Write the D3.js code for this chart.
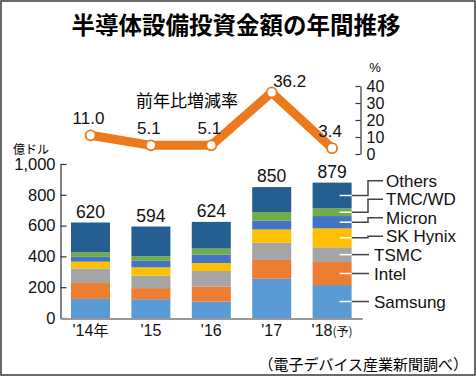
<!DOCTYPE html>
<html>
<head>
<meta charset="utf-8">
<script src="https://cdn.jsdelivr.net/npm/d3@7"></script>
<style>
    body { margin: 0; background: #fff; }
    svg { display: block; }
</style>
</head>
<body>
<svg id="chart"></svg>
<script>
// Years on the x axis and the suffix printed after each
const years = ["'14", "'15", "'16", "'17", "'18"];
const yearSuffix = ["年", "", "", "", "(予)"];

// Capex by company, 100M USD
const samsung = [124, 122, 107, 255, 214];
const intel = [103, 72, 98, 122, 150];
const tsmc = [95, 81, 100, 111, 95];
const skHynix = [44, 54, 52, 87, 123];
const micron = [31, 42, 55, 57, 80];
const tmcWd = [30, 30, 39, 56, 50];
const others = [193, 193, 173, 162, 167];
const totals = [620, 594, 624, 850, 879];

// Year-on-year change, %
const growth = [11.0, 5.1, 5.1, 36.2, 3.4];

const companies = ["Samsung", "Intel", "TSMC", "SK Hynix", "Micron", "TMC/WD", "Others"];
const colors = ["#5b9bd5", "#ed7d31", "#a5a5a5", "#ffc000", "#4472c4", "#70ad47", "#255e91"];
const leftTicks = [0, 200, 400, 600, 800, 1000];
const rightTicks = [0, 10, 20, 30, 40];

const width = 476, height = 376;
const numFont = "'Liberation Sans', Arial, sans-serif";
const jpFont = "'Noto Sans CJK JP', sans-serif";

const svg = d3.select("#chart").attr("width", width).attr("height", height);

// Frame around the whole graphic
svg.append("rect")
    .attr("x", 1).attr("y", 1)
    .attr("width", width - 2).attr("height", height - 2)
    .attr("fill", "#fff").attr("stroke", "#444").attr("stroke-width", 1.6);

// Title
svg.append("text")
    .attr("x", 236).attr("y", 24)
    .attr("text-anchor", "middle").attr("dominant-baseline", "central")
    .attr("font-family", jpFont).attr("font-weight", 700).attr("font-size", 23.5)
    .text("半導体設備投資金額の年間推移");

// Build table for stacking
const table = years.map((y, i) => ({
    year: y,
    Samsung: samsung[i], Intel: intel[i], TSMC: tsmc[i], "SK Hynix": skHynix[i],
    Micron: micron[i], "TMC/WD": tmcWd[i], Others: others[i]
}));
const series = d3.stack().keys(companies)(table);

// Scales
const x = d3.scaleBand().domain(years).range([60.3, 362.3]).paddingInner(0.354).paddingOuter(0.177);
const y = d3.scaleLinear().domain([0, 1000]).range([318, 164]);
const yPct = d3.scaleLinear().domain([0, 40]).range([154, 86]);
const color = d3.scaleOrdinal().domain(companies).range(colors);

// Left axis, ticks pointing inward
const leftAxis = svg.append("g")
    .attr("transform", "translate(60.5,0)")
    .call(d3.axisLeft(y).tickValues(leftTicks).tickFormat(d3.format(","))
        .tickSizeInner(-6).tickSizeOuter(0).tickPadding(5));
leftAxis.select(".domain").attr("stroke", "#333").attr("stroke-width", 1.2);
leftAxis.selectAll(".tick line").attr("stroke", "#333").attr("stroke-width", 1.2);
leftAxis.selectAll("text").attr("font-family", numFont).attr("font-size", 16.5).attr("fill", "#111");

svg.append("text")
    .attr("x", 13).attr("y", 148)
    .attr("dominant-baseline", "central")
    .attr("font-family", jpFont).attr("font-size", 12)
    .text("億ドル");

// Stacked bars
svg.append("g")
    .selectAll("g")
    .data(series)
    .enter()
    .append("g")
    .attr("fill", (d) => color(d.key))
    .selectAll("rect")
    .data((d) => d)
    .enter()
    .append("rect")
    .attr("x", (d) => x(d.data.year))
    .attr("y", (d) => y(d[1]))
    .attr("width", x.bandwidth())
    .attr("height", (d) => y(d[0]) - y(d[1]));

// Totals above bars
svg.append("g")
    .selectAll("text")
    .data(totals)
    .enter()
    .append("text")
    .attr("x", (d, i) => x(years[i]) + x.bandwidth() / 2)
    .attr("y", (d) => y(d) - 5)
    .attr("text-anchor", "middle")
    .attr("font-family", numFont).attr("font-size", 17.5).attr("fill", "#111")
    .text((d) => d);

// X axis baseline and year labels
const bottomAxis = svg.append("g")
    .attr("transform", "translate(0,318.5)")
    .call(d3.axisBottom(x).tickSize(0).tickPadding(10).tickFormat(() => ""));
bottomAxis.select(".domain").attr("stroke", "#999").attr("stroke-width", 2);

const yearLabels = svg.append("g")
    .selectAll("text")
    .data(years)
    .enter()
    .append("text")
    .attr("x", (d) => x(d) + x.bandwidth() / 2)
    .attr("y", 336)
    .attr("text-anchor", "middle")
    .attr("font-family", numFont).attr("font-size", 16).attr("fill", "#111");
yearLabels.append("tspan").text((d) => d);
yearLabels.append("tspan")
    .attr("font-family", jpFont)
    .attr("font-size", (d, i) => (i === 4 ? 12 : 15))
    .text((d, i) => yearSuffix[i]);

// Legend with leader lines from the last bar
const last = years.length - 1;
const barRight = x(years[last]) + x.bandwidth();
const leaderStart = barRight - 12;
const legend = [];
let prevY = Infinity;
series.forEach((s) => {
    const mid = y((s[last][0] + s[last][1]) / 2);
    const labelY = Math.min(mid, prevY - 18.5);
    legend.push({ key: s.key, mid: mid, labelY: labelY, bent: mid - labelY > 0.5 });
    prevY = labelY;
});

const leaders = svg.append("g");
leaders.selectAll("path.out")
    .data(legend)
    .enter()
    .append("path")
    .attr("class", "out")
    .attr("fill", "none").attr("stroke", "#444").attr("stroke-width", 1.5)
    .attr("d", (d) => d.bent
        ? `M${barRight},${d.mid}H368V${d.labelY}H383`
        : `M${barRight},${d.mid}H369`);
leaders.selectAll("path.in")
    .data(legend)
    .enter()
    .append("path")
    .attr("class", "in")
    .attr("stroke", "#fff").attr("stroke-width", 1.5)
    .attr("d", (d) => `M${leaderStart},${d.mid}H${barRight}`);

svg.append("g")
    .selectAll("text")
    .data(legend)
    .enter()
    .append("text")
    .attr("x", (d) => (d.bent ? 386 : 374))
    .attr("y", (d) => d.labelY)
    .attr("dy", "0.36em")
    .attr("font-family", numFont).attr("font-size", 17).attr("fill", "#111")
    .text((d) => d.key);

// Right axis for the growth line
const rightAxis = svg.append("g")
    .attr("transform", "translate(360.5,0)")
    .call(d3.axisRight(yPct).tickValues(rightTicks)
        .tickSizeInner(-5).tickSizeOuter(0).tickPadding(6));
rightAxis.select(".domain").attr("stroke", "#333").attr("stroke-width", 1.2);
rightAxis.selectAll(".tick line").attr("stroke", "#333").attr("stroke-width", 1.2);
rightAxis.selectAll("text").attr("font-family", numFont).attr("font-size", 16).attr("fill", "#111");

svg.append("text")
    .attr("x", 375).attr("y", 67)
    .attr("text-anchor", "middle").attr("dominant-baseline", "central")
    .attr("font-family", numFont).attr("font-size", 13)
    .text("%");

svg.append("text")
    .attr("x", 187).attr("y", 99)
    .attr("text-anchor", "middle").attr("dominant-baseline", "central")
    .attr("font-family", jpFont).attr("font-size", 17)
    .text("前年比増減率");

// Growth line
const cx = (i) => x(years[i]) + x.bandwidth() / 2;
const line = d3.line()
    .x((d, i) => cx(i))
    .y((d) => yPct(d));

svg.append("path")
    .datum(growth)
    .attr("fill", "none")
    .attr("stroke", "#ec7a1c")
    .attr("stroke-width", 9)
    .attr("stroke-linejoin", "round")
    .attr("d", line);

svg.append("g")
    .selectAll("circle")
    .data(growth)
    .enter()
    .append("circle")
    .attr("cx", (d, i) => cx(i))
    .attr("cy", (d) => yPct(d))
    .attr("r", 5)
    .attr("fill", "#fff")
    .attr("stroke", "#ec7a1c")
    .attr("stroke-width", 1.8);

const peak = growth.indexOf(d3.max(growth));
svg.append("g")
    .selectAll("text")
    .data(growth)
    .enter()
    .append("text")
    .attr("x", (d, i) => cx(i) + (i === peak ? 18 : -2))
    .attr("y", (d, i) => yPct(d) - (i === peak ? 5 : 11))
    .attr("text-anchor", "middle")
    .attr("font-family", numFont).attr("font-size", 17).attr("fill", "#111")
    .text((d) => d.toFixed(1));

// Source note
svg.append("text")
    .attr("x", 468).attr("y", 363)
    .attr("text-anchor", "end").attr("dominant-baseline", "central")
    .attr("font-family", jpFont).attr("font-size", 15)
    .text("（電子デバイス産業新聞調べ）");
</script>
</body>
</html>
